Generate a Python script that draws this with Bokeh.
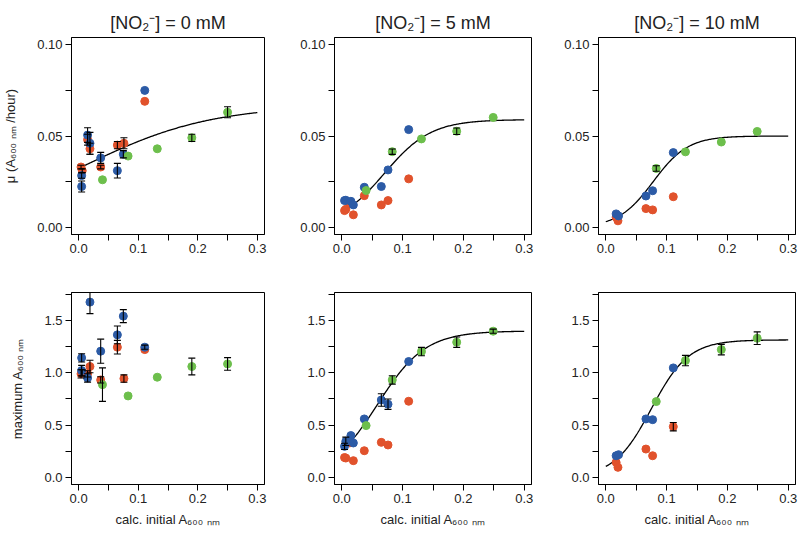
import numpy as np
from bokeh.plotting import figure
from bokeh.layouts import gridplot
from bokeh.models import Range1d, FixedTicker, PrintfTickFormatter
from bokeh.embed import file_html
from bokeh.resources import INLINE

# ---------------- data ----------------
titles = ["[NO\u2082\u207b] = 0 mM", "[NO\u2082\u207b] = 5 mM", "[NO\u2082\u207b] = 10 mM"]
x_ticks = [0.0, 0.1, 0.2, 0.3]
x_minor = [0.05, 0.15, 0.25]
mu_ticks = [0.0, 0.05, 0.10]
mu_minor = [0.025, 0.075]
max_ticks = [0.0, 0.5, 1.0, 1.5]
max_minor = [0.25, 0.75, 1.25, 1.75]

# 0 mM nitrite
x0_blue = [0.005, 0.005, 0.015, 0.019, 0.037, 0.065, 0.075, 0.111]
mu0_blue = [0.0283, 0.0223, 0.0505, 0.046, 0.038, 0.031, 0.040, 0.075]
mu0_blue_err = [0.0015, 0.003, 0.004, 0.006, 0.003, 0.004, 0.002, 0.0]
max0_blue = [1.143, 1.021, 0.951, 1.676, 1.207, 1.363, 1.542, 1.245]
max0_blue_err = [0.04, 0.05, 0.04, 0.11, 0.115, 0.085, 0.062, 0.02]
x0_red = [0.004, 0.006, 0.015, 0.019, 0.037, 0.065, 0.076, 0.111]
mu0_red = [0.033, 0.031, 0.048, 0.043, 0.033, 0.045, 0.046, 0.069]
mu0_red_err = [0.001, 0.001, 0.003, 0.003, 0.001, 0.002, 0.003, 0.0]
max0_red = [0.99, 1.0, 0.99, 1.06, 0.932, 1.245, 0.945, 1.222]
max0_red_err = [0.04, 0.03, 0.03, 0.06, 0.03, 0.065, 0.035, 0.0]
x0_green = [0.040, 0.083, 0.132, 0.190, 0.250]
mu0_green = [0.026, 0.039, 0.043, 0.049, 0.063]
mu0_green_err = [0.0, 0.0, 0.0, 0.002, 0.003]
max0_green = [0.887, 0.779, 0.958, 1.06, 1.085]
max0_green_err = [0.16, 0.0, 0.0, 0.08, 0.06]

# 5 mM nitrite
x5_blue = [0.0045, 0.0066, 0.015, 0.019, 0.037, 0.065, 0.076, 0.110]
mu5_blue = [0.0146, 0.0148, 0.0142, 0.0122, 0.0219, 0.0223, 0.0314, 0.0535]
mu5_blue_err = [0.0, 0.0, 0.0, 0.0, 0.0, 0.0, 0.0, 0.0]
max5_blue = [0.297, 0.345, 0.40, 0.329, 0.559, 0.74, 0.70, 1.108]
max5_blue_err = [0.03, 0.04, 0.0, 0.0, 0.0, 0.06, 0.05, 0.0]
x5_red = [0.0045, 0.0066, 0.013, 0.019, 0.037, 0.065, 0.076, 0.110]
mu5_red = [0.0091, 0.0098, 0.013, 0.0068, 0.0173, 0.0122, 0.0146, 0.0265]
mu5_red_err = [0.0, 0.0, 0.0, 0.0, 0.0, 0.0, 0.0, 0.0]
max5_red = [0.19, 0.185, 0.33, 0.16, 0.255, 0.335, 0.31, 0.728]
max5_red_err = [0.0, 0.0, 0.0, 0.0, 0.0, 0.0, 0.0, 0.0]
x5_green = [0.040, 0.083, 0.131, 0.189, 0.249]
mu5_green = [0.0201, 0.0414, 0.0484, 0.0526, 0.0602]
mu5_green_err = [0.0, 0.0015, 0.0, 0.0018, 0.0]
max5_green = [0.495, 0.932, 1.203, 1.293, 1.398]
max5_green_err = [0.0, 0.04, 0.04, 0.05, 0.02]

# 10 mM nitrite
x10_blue = [0.017, 0.021, 0.066, 0.077, 0.111]
mu10_blue = [0.0073, 0.0062, 0.0171, 0.0200, 0.0409]
mu10_blue_err = [0.0, 0.0, 0.0, 0.0, 0.0]
max10_blue = [0.207, 0.217, 0.559, 0.552, 1.047]
max10_blue_err = [0.0, 0.0, 0.0, 0.0, 0.0]
x10_red = [0.017, 0.020, 0.066, 0.077, 0.111]
mu10_red = [0.0055, 0.0035, 0.0102, 0.0095, 0.0167]
mu10_red_err = [0.0, 0.0, 0.0, 0.0, 0.0]
max10_red = [0.144, 0.096, 0.271, 0.207, 0.485]
max10_red_err = [0.0, 0.0, 0.0, 0.0, 0.04]
x10_green = [0.083, 0.131, 0.190, 0.249]
mu10_green = [0.0322, 0.0413, 0.0467, 0.0525]
mu10_green_err = [0.0015, 0.0, 0.0, 0.0]
max10_green = [0.725, 1.117, 1.222, 1.331]
max10_green_err = [0.0, 0.05, 0.05, 0.06]

# fitted logistic curves: [plateau, steepness, midpoint, x start]
fit_mu0 = [0.067, 9.3, 0.008, 0.005]
fit_mu5 = [0.059, 26.0, 0.070, 0.003]
fit_mu10 = [0.050, 35.0, 0.078, 0.0]
fit_max0 = None
fit_max5 = [1.40, 25.5, 0.059, 0.003]
fit_max10 = [1.315, 32.6, 0.075, 0.0]

BLUE = "#2c5ba6"
RED = "#e1522c"
GREEN = "#6dbf4c"
FONT = "Liberation Sans"


def style_axes(p, yticks, yminor, yfmt):
    p.xaxis.ticker = FixedTicker(ticks=x_ticks, minor_ticks=x_minor)
    p.xaxis.formatter = PrintfTickFormatter(format="%.1f")
    p.yaxis.ticker = FixedTicker(ticks=yticks, minor_ticks=yminor)
    p.yaxis.formatter = PrintfTickFormatter(format=yfmt)
    for ax in [p.xaxis[0], p.yaxis[0]]:
        ax.major_tick_out = 6
        ax.major_tick_in = 0
        ax.minor_tick_out = 6
        ax.minor_tick_in = 0
        ax.axis_line_color = "black"
        ax.major_tick_line_color = "black"
        ax.minor_tick_line_color = "black"
        ax.major_label_text_font = FONT
        ax.major_label_text_font_size = "13px"
        ax.major_label_text_color = "#222222"
        ax.major_label_standoff = 3
        ax.axis_label_text_font = FONT
        ax.axis_label_text_font_size = "13px"
        ax.axis_label_text_font_style = "normal"
        ax.axis_label_text_color = "#222222"


def panel(title, ylabel, xlabel, yr, yticks, yminor, yfmt, bl, br, bt, bb, w, h,
          series, fit):
    p = figure(width=w, height=h, x_range=Range1d(-0.012, 0.312),
               y_range=Range1d(*yr), output_backend="svg", toolbar_location=None,
               min_border_left=bl, min_border_right=br, min_border_top=bt,
               min_border_bottom=bb, title=title)
    if title:
        p.title.text_font = FONT
        p.title.text_font_size = "18px"
        p.title.text_font_style = "normal"
        p.title.align = "center"
        p.title.text_color = "#222222"
        p.title.standoff = 10
    p.xgrid.visible = False
    p.ygrid.visible = False
    p.outline_line_color = "black"
    p.outline_line_width = 1
    p.background_fill_color = "white"
    p.border_fill_color = "white"
    style_axes(p, yticks, yminor, yfmt)
    p.yaxis.axis_label = ylabel
    p.yaxis.axis_label_standoff = 16
    p.xaxis.axis_label = xlabel
    p.xaxis.axis_label_standoff = 6

    if fit is not None:
        A, k, x0, xs = fit
        xc = np.linspace(xs, 0.3, 200)
        yc = A / (1.0 + np.exp(-k * (xc - x0)))
        p.line(xc, yc, line_color="black", line_width=1.3)

    for xs_, ys_, es_, col in series:
        p.scatter(xs_, ys_, size=8, fill_color=col, line_color=col)
    for xs_, ys_, es_, col in series:
        xe = [a for a, e in zip(xs_, es_) if e > 0]
        lo = [b - e for b, e in zip(ys_, es_) if e > 0]
        hi = [b + e for b, e in zip(ys_, es_) if e > 0]
        if xe:
            p.segment(xe, lo, xe, hi, line_color="black", line_width=1.1)
            p.scatter(xe, lo, marker="dash", size=7, line_color="black", line_width=1.1)
            p.scatter(xe, hi, marker="dash", size=7, line_color="black", line_width=1.1)
    return p


TOP_YR = (-0.004, 0.104)
BOT_YR = (-0.068, 1.768)
FW = 197
lefts = [67, 65, 62]
rights = [5, 5, 5]
widths = [l + FW + r for l, r in zip(lefts, rights)]
top_h = 37 + 197 + 24
bot_h = 34 + 192 + 50

ylab_top = "\u03bc (A\u2086\u2080\u2080 \u2099\u2098 /hour)"
ylab_bot = "maximum A\u2086\u2080\u2080 \u2099\u2098"
xlab = "calc. initial A\u2086\u2080\u2080 \u2099\u2098"

top_series = [
    [(x0_red, mu0_red, mu0_red_err, RED), (x0_blue, mu0_blue, mu0_blue_err, BLUE),
     (x0_green, mu0_green, mu0_green_err, GREEN)],
    [(x5_red, mu5_red, mu5_red_err, RED), (x5_blue, mu5_blue, mu5_blue_err, BLUE),
     (x5_green, mu5_green, mu5_green_err, GREEN)],
    [(x10_red, mu10_red, mu10_red_err, RED), (x10_blue, mu10_blue, mu10_blue_err, BLUE),
     (x10_green, mu10_green, mu10_green_err, GREEN)],
]
bot_series = [
    [(x0_red, max0_red, max0_red_err, RED), (x0_blue, max0_blue, max0_blue_err, BLUE),
     (x0_green, max0_green, max0_green_err, GREEN)],
    [(x5_red, max5_red, max5_red_err, RED), (x5_blue, max5_blue, max5_blue_err, BLUE),
     (x5_green, max5_green, max5_green_err, GREEN)],
    [(x10_red, max10_red, max10_red_err, RED), (x10_blue, max10_blue, max10_blue_err, BLUE),
     (x10_green, max10_green, max10_green_err, GREEN)],
]
top_fits = [fit_mu0, fit_mu5, fit_mu10]
bot_fits = [fit_max0, fit_max5, fit_max10]

row1 = []
row2 = []
for i in range(3):
    row1.append(panel(titles[i], ylab_top if i == 0 else None, None, TOP_YR,
                      mu_ticks, mu_minor, "%.2f", lefts[i], rights[i], 37, 24,
                      widths[i], top_h, top_series[i], top_fits[i]))
    row2.append(panel(None, ylab_bot if i == 0 else None, xlab, BOT_YR,
                      max_ticks, max_minor, "%.1f", lefts[i], rights[i], 34, 50,
                      widths[i], bot_h, bot_series[i], bot_fits[i]))

grid = gridplot([row1, row2], toolbar_location=None)
open("out.html", "w").write(file_html(grid, INLINE))
